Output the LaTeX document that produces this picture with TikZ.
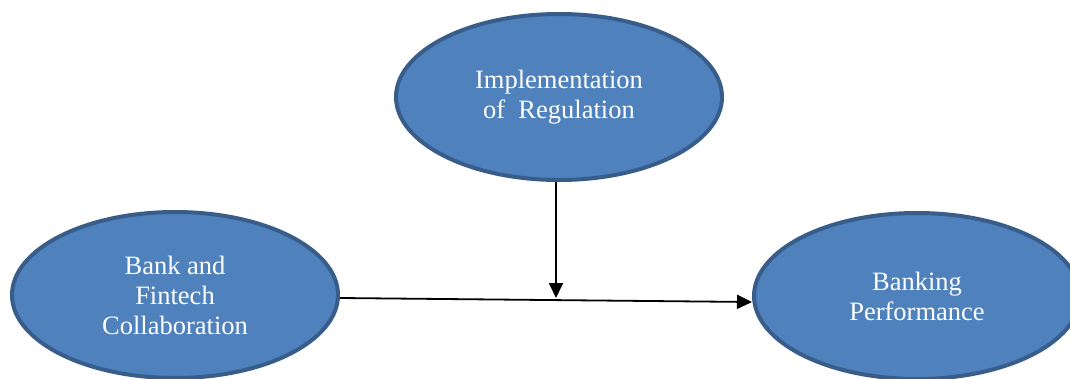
\documentclass[tikz,border=0pt]{standalone}
\usepackage{fontspec}
\setmainfont{Liberation Serif}
\usetikzlibrary{shapes.geometric,arrows.meta}
\definecolor{fillblue}{HTML}{4F81BD}
\definecolor{edgeblue}{HTML}{385D8A}
\tikzset{
  oval/.style={ellipse, draw=edgeblue, fill=fillblue, line width=4pt,
    minimum width=326pt, minimum height=166pt, inner sep=0pt,
    text=white, align=center, font=\fontsize{26.5}{30}\selectfont},
  conn/.style={line width=1.8pt, -{Triangle[length=15pt,width=14pt]}}
}
\begin{document}
\begin{tikzpicture}[x=1pt,y=-1pt]
\useasboundingbox (0,0) rectangle (1070,378);
\node[oval] (T) at (559,97) {Implementation\\of\ \ Regulation};
\node[oval] (L) at (175,295) {Bank and\\Fintech\\Collaboration};
\node[oval] (R) at (917,296) {Banking\\Performance};
\coordinate (m) at (556,298);
\draw[conn] ([yshift=-3pt]L.east) -- ([yshift=-6pt]R.west);
\draw[conn] ([xshift=-3pt]T.south) -- (m);
\end{tikzpicture}
\end{document}
